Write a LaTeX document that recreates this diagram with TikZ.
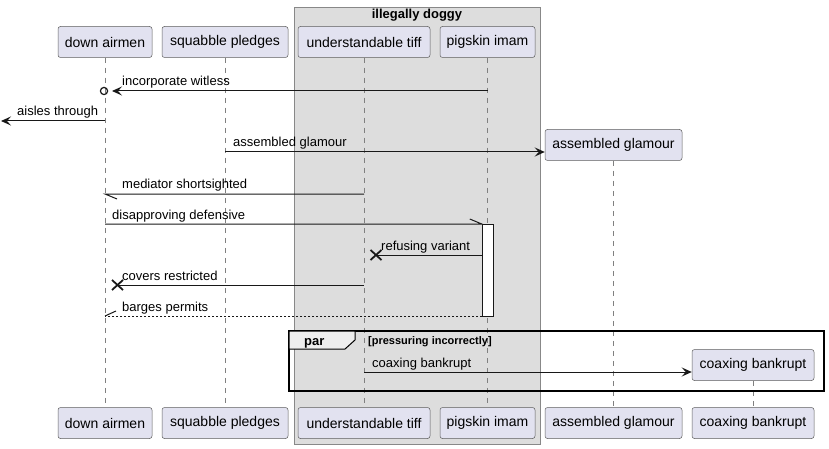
\documentclass[tikz,border=0pt]{standalone}
\usepackage{fontspec}
\setmainfont{Liberation Sans}
\usetikzlibrary{arrows.meta}
\definecolor{partfill}{HTML}{E2E2F0}
\definecolor{partline}{HTML}{181818}
\definecolor{lifeline}{HTML}{808080}
\definecolor{grpfill}{HTML}{DDDDDD}
\definecolor{grpline}{HTML}{888888}
\definecolor{tabfill}{HTML}{EEEEEE}
\tikzset{
  part/.style={draw=partline!70,line width=0.5pt,fill=partfill,rounded corners=2.5pt,
    minimum height=31pt,inner sep=0pt,font=\fontsize{14}{16}\selectfont},
  life/.style={draw=lifeline,line width=0.6pt,dash pattern=on 5pt off 5pt},
  msg/.style={draw=partline,line width=1pt},
  arr/.style={-{Stealth[length=10pt,width=9pt,inset=4pt]}},
  lbl/.style={anchor=base west,inner sep=0pt,font=\fontsize{13}{15}\selectfont},
  xmark/.style={draw=partline,line width=1.8pt},
  act/.style={draw=partline,line width=0.5pt,fill=white,minimum width=11pt,minimum height=92pt,inner sep=0pt},
}
\begin{document}
\begin{tikzpicture}[x=1pt,y=-1pt]
\useasboundingbox (0,0) rectangle (829,449);
\draw[draw=grpline,fill=grpfill,line width=0.8pt] (294,7) rectangle (540,444);
\node[anchor=base,inner sep=0pt,font=\bfseries\fontsize{13}{15}\selectfont] (grp) at (417,19) {illegally doggy};
\node[part,minimum width=94pt] (da) at (105,42) {down airmen};
\node[part,minimum width=126pt] (sp) at (225,42) {squabble pledges};
\node[part,minimum width=132pt] (ut) at (364,42) {understandable tiff};
\node[part,minimum width=95pt] (pi) at (487.5,42) {pigskin imam};
\node[part,minimum width=137pt] (ag) at (613.5,145) {assembled glamour};
\node[part,minimum width=122pt] (cb) at (753,365) {coaxing bankrupt};
\node[part,minimum width=94pt] (da2) at (105,423) {down airmen};
\node[part,minimum width=126pt] (sp2) at (225,423) {squabble pledges};
\node[part,minimum width=132pt] (ut2) at (364,423) {understandable tiff};
\node[part,minimum width=95pt] (pi2) at (487.5,423) {pigskin imam};
\node[part,minimum width=137pt] (ag2) at (613.5,423) {assembled glamour};
\node[part,minimum width=122pt] (cb2) at (753,423) {coaxing bankrupt};
\draw[life] (da) -- (da2);
\draw[life] (sp) -- (sp2);
\draw[life] (ut) -- (ut2);
\draw[life] (pi) -- (pi2);
\draw[life] (ag) -- (ag2);
\draw[life] (cb) -- (cb2);
\node[act] (act) at (487.5,270) {};
\coordinate (m1s) at (487.5,91);
\coordinate (m1e) at (112,91);
\coordinate (m1o) at (104,91);
\draw[msg,arr] (m1s) -- (m1e);
\draw[draw=partline,line width=1.2pt] (m1o) circle (3.6pt);
\node[lbl] (l1) at (122,86) {incorporate witless};
\coordinate (m2s) at (105,121);
\coordinate (m2e) at (1,121);
\draw[msg,arr] (m2s) -- (m2e);
\node[lbl] (l2) at (17,116) {aisles through};
\coordinate (m3s) at (225,152);
\draw[msg,arr] (m3s) -- (m3s -| ag.west);
\node[lbl] (l3) at (233,147) {assembled glamour};
\coordinate (m4s) at (364,194);
\coordinate (m4e) at (105,194);
\draw[msg] (m4s) -- (m4e) -- ++(12,5);
\node[lbl] (l4) at (122,189) {mediator shortsighted};
\coordinate (m5s) at (105,224);
\draw[msg] (m5s) -- (m5s -| act.west) -- ++(-12,-5);
\node[lbl] (l5) at (112,219) {disapproving defensive};
\coordinate (m6s) at (482,255);
\coordinate (m6e) at (376,255);
\draw[msg] (m6s) -- (m6e);
\draw[xmark] (m6e) ++(-5.5,-5) -- ++(11,10) ++(0,-10) -- ++(-11,10);
\node[lbl] (l6) at (381,250) {refusing variant};
\coordinate (m7s) at (364,285);
\coordinate (m7e) at (117.5,285);
\draw[msg] (m7s) -- (m7e);
\draw[xmark] (m7e) ++(-5.5,-5) -- ++(11,10) ++(0,-10) -- ++(-11,10);
\node[lbl] (l7) at (122,280) {covers restricted};
\coordinate (m8s) at (482,316);
\coordinate (m8e) at (105,316);
\draw[msg,dash pattern=on 2pt off 2pt] (m8s) -- (m8e);
\draw[msg] (m8e) -- ++(11,-5);
\node[lbl] (l8) at (122,311) {barges permits};
\draw[draw=black,line width=1.5pt] (289,331) rectangle (824,391);
\draw[draw=black,line width=1pt,fill=tabfill] (289,331) -- (355,331) -- (355,340) -- (345,349) -- (289,349) -- cycle;
\node[anchor=base west,inner sep=0pt,font=\bfseries\fontsize{13}{15}\selectfont] (par) at (304,345) {par};
\node[anchor=base west,inner sep=0pt,font=\bfseries\fontsize{11}{13}\selectfont] (cond) at (368,344) {[pressuring incorrectly]};
\coordinate (m9s) at (364,372);
\draw[msg,arr] (m9s) -- (m9s -| cb.west);
\node[lbl] (l9) at (372,367) {coaxing bankrupt};
\end{tikzpicture}
\end{document}
